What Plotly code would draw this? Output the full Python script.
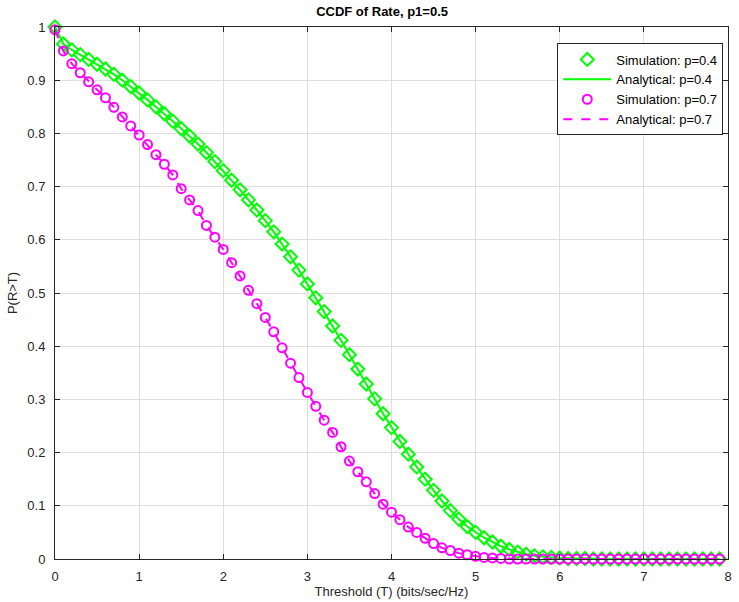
import plotly.graph_objects as go

T = [round(0.1 * i, 1) for i in range(80)]

sim_p04 = [1.000, 0.968, 0.957, 0.948, 0.939, 0.930, 0.921, 0.911, 0.900, 0.888,
           0.876, 0.863, 0.850, 0.837, 0.823, 0.809, 0.795, 0.780, 0.764, 0.747,
           0.730, 0.712, 0.694, 0.675, 0.656, 0.636, 0.615, 0.592, 0.568, 0.543,
           0.517, 0.491, 0.465, 0.438, 0.411, 0.384, 0.357, 0.329, 0.301, 0.273,
           0.247, 0.221, 0.197, 0.173, 0.150, 0.129, 0.109, 0.091, 0.075, 0.061,
           0.050, 0.040, 0.032, 0.024, 0.018, 0.013, 0.009, 0.006, 0.004, 0.003,
           0.002, 0.001, 0.001, 0.001, 0.000, 0.000, 0.000, 0.000, 0.000, 0.000,
           0.000, 0.000, 0.000, 0.000, 0.000, 0.000, 0.000, 0.000, 0.000, 0.000]

sim_p07 = [0.995, 0.955, 0.931, 0.914, 0.897, 0.882, 0.867, 0.849, 0.831, 0.814,
           0.797, 0.779, 0.760, 0.742, 0.722, 0.696, 0.675, 0.655, 0.627, 0.605,
           0.582, 0.557, 0.532, 0.505, 0.480, 0.454, 0.427, 0.397, 0.368, 0.341,
           0.313, 0.287, 0.261, 0.238, 0.211, 0.184, 0.164, 0.145, 0.123, 0.103,
           0.088, 0.074, 0.060, 0.050, 0.039, 0.029, 0.021, 0.016, 0.011, 0.008,
           0.005, 0.003, 0.002, 0.001, 0.000, 0.000, 0.000, 0.000, 0.000, 0.000,
           0.000, 0.000, 0.000, 0.000, 0.000, 0.000, 0.000, 0.000, 0.000, 0.000,
           0.000, 0.000, 0.000, 0.000, 0.000, 0.000, 0.000, 0.000, 0.000, 0.000]

ana_p04 = sim_p04
ana_p07 = sim_p07

GREEN = "#00FF00"
MAGENTA = "#FF00FF"
FONT = "Liberation Sans, Arial, sans-serif"
AXC = "#262626"

fig = go.Figure()
fig.add_trace(go.Scatter(x=T, y=sim_p04, mode="markers", name="Simulation: p=0.4",
                         marker=dict(symbol="diamond-open", size=10, color=GREEN,
                                     line=dict(width=2, color=GREEN)),
                         cliponaxis=False))
fig.add_trace(go.Scatter(x=T, y=ana_p04, mode="lines", name="Analytical: p=0.4",
                         line=dict(color=GREEN, width=2), cliponaxis=False))
fig.add_trace(go.Scatter(x=T, y=sim_p07, mode="markers", name="Simulation: p=0.7",
                         marker=dict(symbol="circle-open", size=9, color=MAGENTA,
                                     line=dict(width=2, color=MAGENTA)),
                         cliponaxis=False))
fig.add_trace(go.Scatter(x=T, y=ana_p07, mode="lines", name="Analytical: p=0.7",
                         line=dict(color=MAGENTA, width=2, dash="dash"), cliponaxis=False))

axis_common = dict(showline=True, linecolor=AXC, linewidth=1, mirror="ticks",
                   ticks="inside", ticklen=5, tickcolor=AXC, automargin=False,
                   showgrid=True, gridcolor="#dedede", gridwidth=1, zeroline=False,
                   tickfont=dict(family=FONT, size=13, color=AXC))

fig.update_xaxes(range=[0, 8], dtick=1, tick0=0, ticklabelstandoff=5,
                 title=dict(text="Threshold (T) (bits/sec/Hz)", standoff=4,
                            font=dict(family=FONT, size=13, color=AXC)),
                 **axis_common)
fig.update_yaxes(range=[0, 1], dtick=0.1, tick0=0, ticklabelstandoff=6,
                 title=dict(text="P(R>T)", standoff=6,
                            font=dict(family=FONT, size=13, color=AXC)),
                 **axis_common)

fig.update_layout(
    width=739, height=602,
    margin=dict(l=55, r=11, t=27, b=43),
    paper_bgcolor="white", plot_bgcolor="white",
    title=dict(text="<b>CCDF of Rate, p1=0.5</b>", x=0.517, xanchor="center",
               y=0.981, yanchor="middle",
               font=dict(family=FONT, size=13, color="black")),
    legend=dict(x=0.993, y=0.969, xanchor="right", yanchor="top",
                bgcolor="white", bordercolor=AXC, borderwidth=1,
                font=dict(family=FONT, size=13, color="black"),
                itemwidth=48, tracegroupgap=0),
    showlegend=True,
)

fig.write_html("out.html")
